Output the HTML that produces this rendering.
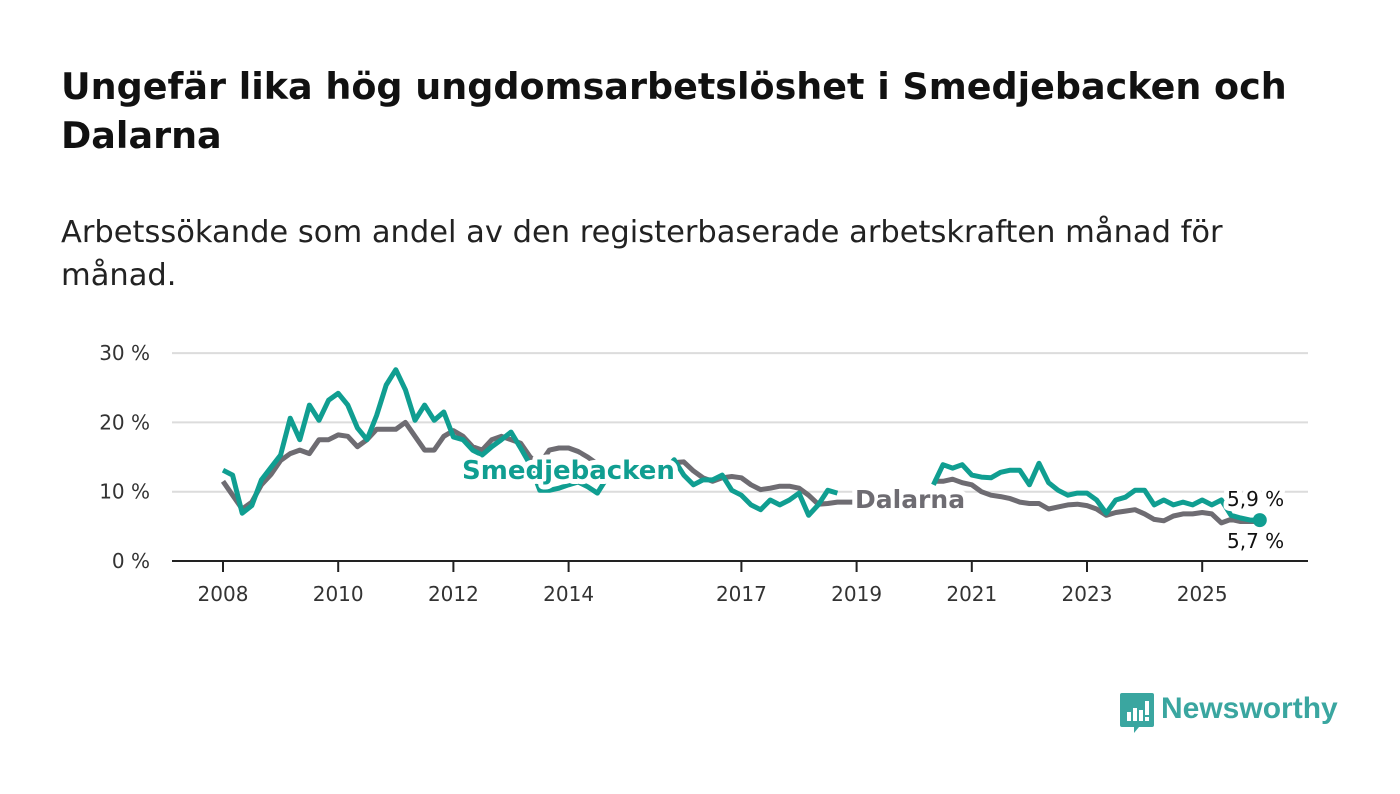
<!DOCTYPE html>
<html><head><meta charset="utf-8"><style>
body{margin:0;width:1400px;height:794px;background:#fff;font-family:"DejaVu Sans","Liberation Sans",sans-serif;color:#111;overflow:hidden;position:relative}
h1{position:absolute;left:61px;top:62px;margin:0;font-size:36.5px;line-height:49px;font-weight:bold;width:1250px;color:#111}
.sub{position:absolute;left:61px;top:211px;font-size:30.5px;line-height:43px;width:1200px;color:#222}
svg{position:absolute;left:0;top:0}
</style></head><body>
<h1>Ungefär lika hög ungdomsarbetslöshet i Smedjebacken och Dalarna</h1>
<div class="sub">Arbetssökande som andel av den registerbaserade arbetskraften månad för månad.</div>
<svg id="chart" width="1400" height="794"></svg>
<script>
const startYear = 2008;
const stepYears = 1/6;
const smedjebacken = [13.1,12.4,6.9,8,11.7,13.5,15.3,20.6,17.5,22.5,20.3,23.2,24.2,22.5,19.2,17.5,21,25.4,27.6,24.7,20.3,22.5,20.3,21.5,17.9,17.5,16,15.3,16.5,17.5,18.6,16.3,13.9,10.2,10.2,10.5,11,11.4,10.7,9.8,12,12.5,13,13,12.5,12.5,13,14.6,12.4,11,11.7,11.7,12.4,10.2,9.5,8.1,7.4,8.8,8.1,8.8,9.8,6.6,8.1,10.2,9.8,null,null,null,null,null,null,null,null,null,11,13.9,13.4,13.9,12.4,12.1,12,12.8,13.1,13.1,11,14.1,11.3,10.2,9.5,9.8,9.8,8.8,6.9,8.8,9.2,10.2,10.2,8.1,8.8,8.1,8.5,8.1,8.8,8.1,8.8,6.6,6.2,5.9,5.9];
const dalarna = [11.5,9.5,7.5,8.5,11,12.5,14.5,15.5,16,15.5,17.5,17.5,18.2,18,16.5,17.5,19,19,19,20,18,16,16,18,18.8,18,16.5,16,17.5,18,17.5,17,15,14,16,16.3,16.3,15.8,15,14,13.5,13.5,14,14,14,14,14,14.2,14.3,13,12,11.5,12,12.2,12,11,10.3,10.5,10.8,10.8,10.5,9.5,8.2,8.3,8.5,8.5,8.5,null,null,null,null,null,null,null,11.5,11.5,11.8,11.3,11,10,9.5,9.3,9,8.5,8.3,8.3,7.5,7.8,8.1,8.2,8,7.5,6.6,7,7.2,7.4,6.8,6,5.8,6.5,6.8,6.8,7,6.8,5.5,6,5.7,5.7,5.7];
const yTicks = [0,10,20,30];
const yTickLabels = ["0 %","10 %","20 %","30 %"];
const xTicks = [2008,2010,2012,2014,2017,2019,2021,2023,2025];

const NS="http://www.w3.org/2000/svg";
const svg=document.getElementById('chart');
const x=yr=>223+(yr-2008)*57.6;
const y=v=>561-v*6.93;
function mk(tag,attrs,parent){const e=document.createElementNS(NS,tag);for(const k in attrs)e.setAttribute(k,attrs[k]);(parent||svg).appendChild(e);return e;}
yTicks.forEach((t,i)=>{
  if(t>0){const g=mk('line',{x1:172,x2:1308,y1:y(t),y2:y(t),stroke:'#dcdcdc','stroke-width':2});
  
  }
  const l=mk('text',{x:150,y:y(t)+7,'text-anchor':'end','font-size':20,fill:'#333'});
  l.textContent=yTickLabels[i];
  
  
});
const ax=mk('line',{x1:172,x2:1308,y1:561,y2:561,stroke:'#222','stroke-width':2});


xTicks.forEach(t=>{
  const tk=mk('line',{x1:x(t),x2:x(t),y1:561,y2:572,stroke:'#222','stroke-width':2});
  
  
  const l=mk('text',{x:x(t),y:601,'text-anchor':'middle','font-size':20,fill:'#333'});
  l.textContent=t;
  
  
});
function path(vals){let d='',pen=false;vals.forEach((v,i)=>{if(v==null){pen=false;return;}const px=x(startYear+i*stepYears),py=y(v);d+=(pen?'L':'M')+px.toFixed(1)+' '+py.toFixed(1);pen=true;});return d;}
const pd=mk('path',{d:path(dalarna),fill:'none',stroke:'#6e6c72','stroke-width':5,'stroke-linejoin':'round'});


const ps=mk('path',{d:path(smedjebacken),fill:'none',stroke:'#109e91','stroke-width':5,'stroke-linejoin':'round'});


const lastI=smedjebacken.length-1;
const dot=mk('circle',{cx:x(startYear+lastI*stepYears),cy:y(smedjebacken[lastI]),r:7,fill:'#109e91'});


function lab(txt,lx,ly,col,size,weight,name){const t=mk('text',{x:lx,y:ly,'font-size':size,'font-weight':weight,fill:col,stroke:'#fff','stroke-width':10,'paint-order':'stroke','stroke-linejoin':'round'});t.textContent=txt;}
lab('Smedjebacken',462,479,'#109e91',26,'bold','smedjebacken-label');
lab('Dalarna',855,508,'#6e6c72',25,'bold','dalarna-label');
lab('5,9 %',1227,506,'#111',20,'normal','smedjebacken-value-label');
lab('5,7 %',1227,548,'#111',20,'normal','dalarna-value-label');
</script>
<div style="position:absolute;left:1119px;top:691px;display:flex;align-items:center">
<svg width="36" height="44" style="position:static"><path d="M3 2h30a2 2 0 0 1 2 2v30a2 2 0 0 1-2 2H20l-5 6v-6H3a2 2 0 0 1-2-2V4a2 2 0 0 1 2-2z" fill="#3aa6a0"/><rect x="8" y="21" width="4" height="9" fill="#fff"/><rect x="14" y="17" width="4" height="13" fill="#fff"/><rect x="20" y="19" width="4" height="11" fill="#fff"/><rect x="26" y="10" width="4" height="14" fill="#fff"/><rect x="26" y="26" width="4" height="4" fill="#fff"/></svg>
<span style="color:#3aa6a0;font-weight:bold;margin-left:6px;margin-top:-8px;font-family:'Liberation Sans',sans-serif;font-size:30px">Newsworthy</span></div>
</body></html>
